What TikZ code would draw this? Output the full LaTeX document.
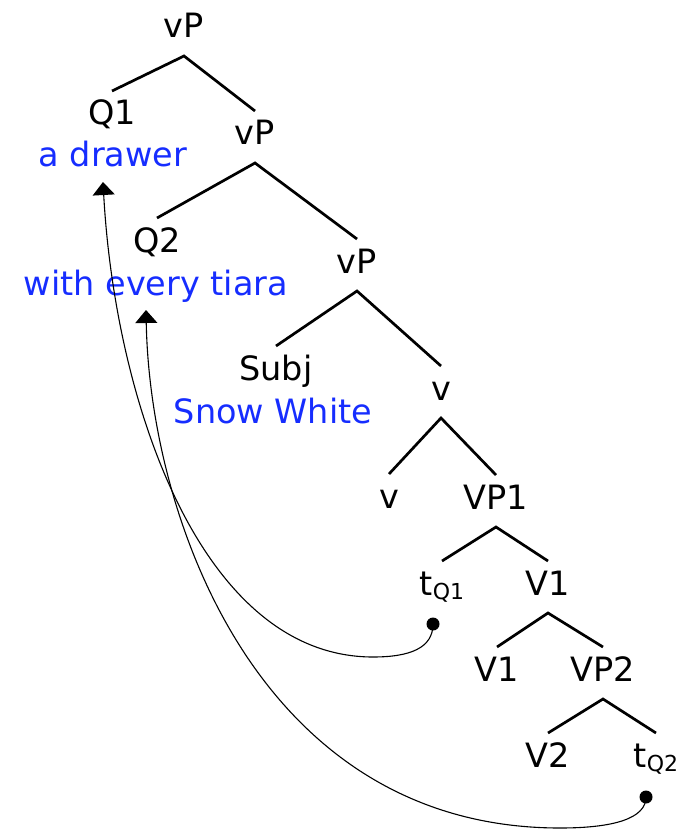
\documentclass[tikz,border=0pt]{standalone}
\usepackage{fontspec}
\setmainfont{DejaVu Sans}
\usetikzlibrary{arrows.meta,calc}
\definecolor{lblue}{RGB}{22,45,255}
\newcommand\trsub[1]{t\raisebox{-4pt}{\fontsize{22}{23}\selectfont Q#1}}
\newcommand\brch[3]{\draw[branch] ($(#2.base)+(0,-34)$) -- ($(#1.base)+(0,18)$) -- ($(#3.base)+(0,-34)$);}
\begin{document}
\begin{tikzpicture}[x=1pt,y=-1pt,
  lbl/.style={anchor=base,inner sep=0pt,font=\fontsize{33.5}{37}\selectfont},
  gloss/.style={lbl,text=lblue},
  branch/.style={line width=2.7pt},
  mv/.style={line width=1.1pt,-{Triangle[width=22pt,length=13pt]}},
  dotc/.style={circle,fill=black,inner sep=0pt,minimum size=13pt}]
\useasboundingbox (0,0) rectangle (681,829);
% nodes
\node[lbl] (n0) at (184,38) {vP};
\node[lbl] (q1) at (112,125) {Q1};
\node[gloss] (g1) at (113,167) {a drawer};
\node[lbl] (n1) at (255,145) {vP};
\node[lbl] (q2) at (157,252) {Q2};
\node[gloss] (g2) at (156,295) {with every tiara};
\node[lbl] (n2) at (357,273) {vP};
\node[lbl] (subj) at (276,380) {Subj};
\node[gloss] (g3) at (273,423) {Snow White};
\node[lbl] (vb) at (441,400) {v};
\node[lbl] (vs) at (389,508) {v};
\node[lbl] (vp1) at (496,509) {VP1};
\node[lbl] (t1) at (442,595) {\trsub{1}};
\node[lbl] (v1) at (548,595) {V1};
\node[lbl] (v1b) at (497,681) {V1};
\node[lbl] (vp2) at (603,681) {VP2};
\node[lbl] (v2) at (548,767) {V2};
\node[lbl] (t2) at (656,767) {\trsub{2}};
% branches
\brch{n0}{q1}{n1}
\brch{n1}{q2}{n2}
\brch{n2}{subj}{vb}
\brch{vb}{vs}{vp1}
\brch{vp1}{t1}{v1}
\brch{v1}{v1b}{vp2}
\brch{vp2}{v2}{t2}
% movement arrows
\node[dotc] (d1) at (433,624) {};
\node[dotc] (d2) at (646,797) {};
\coordinate (a1) at (103,182);
\coordinate (a2) at (146,310);
\coordinate (b1) at (373,657);
\coordinate (b2) at (560,828);
\draw[mv] (d1.center) .. controls (433,648) and (410,657) .. (b1)
  .. controls (200,657) and (115,400) .. (a1);
\draw[mv] (d2.center) .. controls (646,818) and (615,828) .. (b2)
  .. controls (260,828) and (150,520) .. (a2);
\end{tikzpicture}
\end{document}
